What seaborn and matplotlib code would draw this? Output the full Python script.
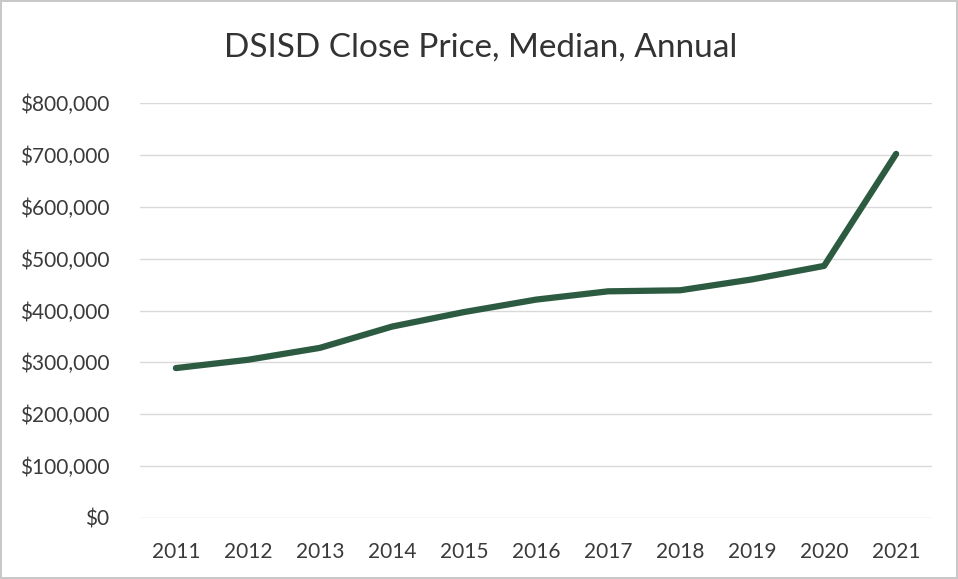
import matplotlib
matplotlib.use("Agg")
import matplotlib.pyplot as plt
import seaborn as sns
import pandas as pd
from matplotlib.ticker import FuncFormatter, MultipleLocator

years = ["2011", "2012", "2013", "2014", "2015", "2016", "2017", "2018", "2019", "2020", "2021"]
median_price = [289000, 305000, 328000, 369000, 397000, 421000, 437000, 439000, 460000, 486000, 702000]
title = "DSISD Close Price, Median, Annual"

sns.set_theme(style="white")
plt.rcParams['font.family'] = ['Lato', 'DejaVu Sans']

df = pd.DataFrame({"Year": years, "Price": median_price})

fig = plt.figure(figsize=(9.58, 5.79), dpi=100)
fig.patch.set_facecolor("white")
fig.patch.set_edgecolor("#c8c8c8")
fig.patch.set_linewidth(1.5)
ax = fig.add_axes([0.146, 0.1054, 0.827, 0.7166])

sns.lineplot(data=df, x="Year", y="Price", ax=ax, color="#2c5b41", linewidth=4.5,
             sort=False, solid_capstyle="round", solid_joinstyle="round")

ax.set_xlim(-0.5, len(years) - 0.5)
ax.set_ylim(0, 800000)
ax.yaxis.set_major_locator(MultipleLocator(100000))
ax.yaxis.set_major_formatter(FuncFormatter(lambda v, p: f"${v:,.0f}"))
ax.grid(axis="y", color="#d9d9d9", linewidth=1)
ax.grid(axis="x", visible=False)
for s in ax.spines.values():
    s.set_visible(False)
ax.tick_params(axis="y", length=0, pad=22, labelsize=15, labelcolor="#3a3a3a")
ax.tick_params(axis="x", length=0, pad=17, labelsize=15, labelcolor="#3a3a3a")
ax.set_xlabel("")
ax.set_ylabel("")
fig.text(0.502, 0.918, title, ha="center", va="center", fontsize=24, color="#333333")

fig.savefig("out.png", dpi=100, facecolor=fig.get_facecolor(), edgecolor=fig.get_edgecolor())
